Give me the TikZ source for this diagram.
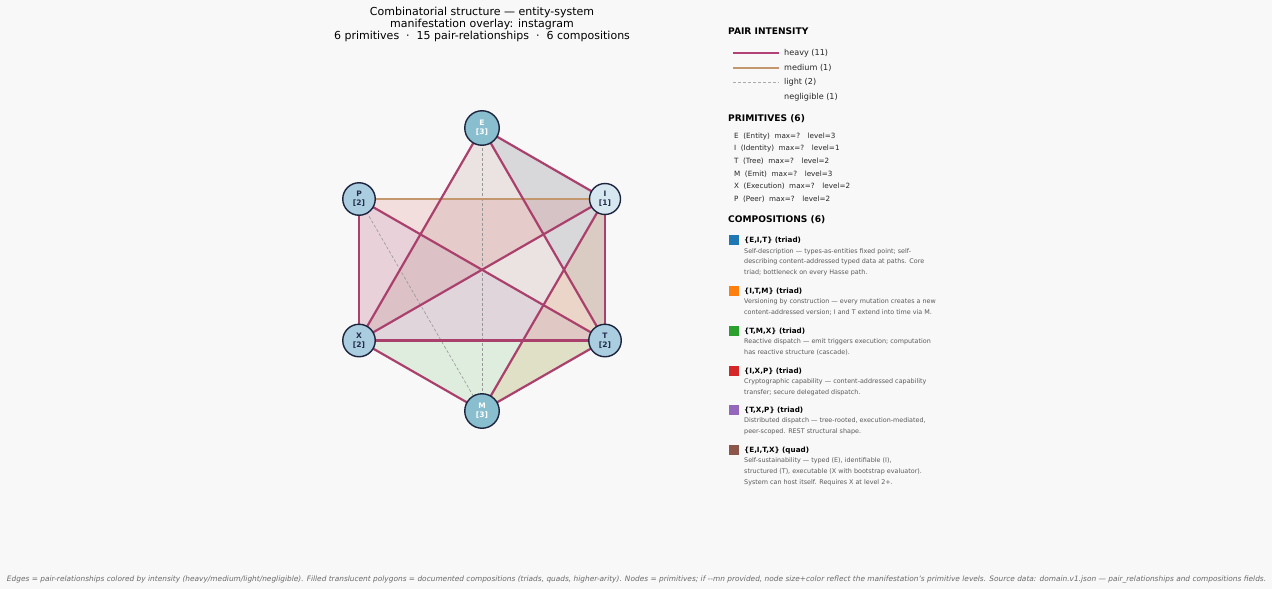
\documentclass[tikz,border=0pt]{standalone}
\usepackage{fontspec}
\setmainfont{DejaVu Sans}
\definecolor{bgc}{RGB}{248,248,248}
\definecolor{heavyc}{RGB}{170,64,108}
\definecolor{heavylg}{RGB}{178,66,118}
\definecolor{mediumc}{RGB}{196,152,110}
\definecolor{lightc}{RGB}{150,150,150}
\definecolor{nodeedge}{RGB}{28,36,62}
\definecolor{nodetext}{RGB}{34,44,74}
\definecolor{lvthree}{RGB}{137,190,206}
\definecolor{lvtwo}{RGB}{170,205,224}
\definecolor{lvone}{RGB}{215,231,240}
\definecolor{tblue}{HTML}{1F77B4}
\definecolor{torange}{HTML}{FF7F0E}
\definecolor{tgreen}{HTML}{2CA02C}
\definecolor{tred}{HTML}{D62728}
\definecolor{tpurple}{HTML}{9467BD}
\definecolor{tbrown}{HTML}{8C564B}
\definecolor{desc}{RGB}{90,90,90}
\definecolor{foot}{RGB}{105,105,105}
\pgfdeclarelayer{bg}
\pgfsetlayers{bg,main}
\tikzset{
  prim/.style={circle, draw=nodeedge, line width=1.4pt, inner sep=0pt, align=center,
    font=\bfseries\fontsize{7.5}{9}\selectfont},
  lvthree/.style={prim, fill=lvthree, minimum size=34.5pt, text=white},
  lvtwo/.style={prim, fill=lvtwo, minimum size=32.5pt, text=nodetext},
  lvone/.style={prim, fill=lvone, minimum size=31pt, text=nodetext},
  heavy/.style={draw=heavyc, line width=2.2pt},
  medium/.style={draw=mediumc, line width=1.6pt},
  light/.style={draw=lightc, line width=0.6pt, dash pattern=on 3pt off 2pt},
  comp/.style={fill opacity=0.12},
  hdr/.style={anchor=west, inner sep=0pt, font=\bfseries\fontsize{9.1}{10}\selectfont, text=black},
  lgtext/.style={anchor=west, inner sep=0pt, font=\fontsize{8.1}{9}\selectfont, text=black!85},
  primtext/.style={anchor=west, inner sep=0pt, font=\fontsize{7.2}{8}\selectfont, text=black!85},
  ctitle/.style={anchor=base west, inner sep=0pt, font=\bfseries\fontsize{7.2}{8}\selectfont, text=black},
  cdesc/.style={anchor=base west, align=left, inner sep=0pt, font=\fontsize{6.4}{10.7}\selectfont, text=desc},
  sq/.style={minimum size=10pt, inner sep=0pt, draw=none},
}
\begin{document}
\begin{tikzpicture}[x=1pt,y=-1pt]
\useasboundingbox (0,0) rectangle (1272,589);

% title
\node[align=center, font=\fontsize{11}{12}\selectfont, text=black] (title) at (482,24)
  {Combinatorial structure — entity-system\\manifestation overlay: instagram\\6 primitives ~·~ 15 pair-relationships ~·~ 6 compositions};

% primitives (nodes)
\node[lvthree] (E) at (482,128) {E\\{[3]}};
\node[lvone]   (I) at (605,199) {I\\{[1]}};
\node[lvtwo]   (T) at (605,340.5) {T\\{[2]}};
\node[lvthree] (M) at (482,411) {M\\{[3]}};
\node[lvtwo]   (X) at (359,340.5) {X\\{[2]}};
\node[lvtwo]   (P) at (359,199) {P\\{[2]}};

\begin{pgfonlayer}{bg}
  \fill[bgc] (0,0) rectangle (1272,589);
  % compositions
  \fill[tblue, fill opacity=0.09] (E.center) -- (I.center) -- (T.center) -- cycle;
  \fill[torange, comp] (I.center) -- (T.center) -- (M.center) -- cycle;
  \fill[tgreen, comp]  (T.center) -- (M.center) -- (X.center) -- cycle;
  \fill[tred, comp]    (I.center) -- (X.center) -- (P.center) -- cycle;
  \fill[tpurple, fill opacity=0.10] (T.center) -- (X.center) -- (P.center) -- cycle;
  \fill[tbrown, fill opacity=0.13]  (E.center) -- (I.center) -- (T.center) -- (X.center) -- cycle;
  % light edges
  \draw[light] (E.center) -- (M.center);
  \draw[light] (P.center) -- (M.center);
  % medium edge
  \draw[medium] (P.center) -- (I.center);
  % heavy edges
  \draw[heavy] (E.center) -- (I.center);
  \draw[heavy] (E.center) -- (T.center);
  \draw[heavy] (E.center) -- (X.center);
  \draw[heavy] (P.center) -- (T.center);
  \draw[heavy] (P.center) -- (X.center);
  \draw[heavy] (I.center) -- (T.center);
  \draw[heavy] (I.center) -- (X.center);
  \draw[heavy] (I.center) -- (M.center);
  \draw[heavy] (T.center) -- (X.center);
  \draw[heavy] (T.center) -- (M.center);
  \draw[heavy] (X.center) -- (M.center);
\end{pgfonlayer}

% legend: pair intensity
\node[hdr] (h1) at (728,31) {PAIR INTENSITY};
\coordinate (la1) at (733,53); \coordinate (lb1) at (779,53);
\coordinate (la2) at (733,68); \coordinate (lb2) at (779,68);
\coordinate (la3) at (733,82); \coordinate (lb3) at (779,82);
\draw[draw=heavylg, line width=2.6pt] (la1) -- (lb1);
\draw[draw=mediumc, line width=1.8pt] (la2) -- (lb2);
\draw[draw=lightc!80, line width=0.7pt, dash pattern=on 3pt off 2pt] (la3) -- (lb3);
\node[lgtext] (l1) at (784,53) {heavy (11)};
\node[lgtext] (l2) at (784,68) {medium (1)};
\node[lgtext] (l3) at (784,82) {light (2)};
\node[lgtext] (l4) at (784,97) {negligible (1)};

% legend: primitives
\node[hdr] (h2) at (728,119) {PRIMITIVES (6)};
\node[primtext] (p1) at (734,137) {E~ (Entity)~ max=?~~ level=3};
\node[primtext] (p2) at (734,149) {I~ (Identity)~ max=?~~ level=1};
\node[primtext] (p3) at (734,161.5) {T~ (Tree)~ max=?~~ level=2};
\node[primtext] (p4) at (734,174) {M~ (Emit)~ max=?~~ level=3};
\node[primtext] (p5) at (734,186.5) {X~ (Execution)~ max=?~~ level=2};
\node[primtext] (p6) at (734,199) {P~ (Peer)~ max=?~~ level=2};

% legend: compositions
\node[hdr] (h3) at (728,220) {COMPOSITIONS (6)};

\node[sq, fill=tblue] (s1) at (734,240) {};
\node[ctitle] (c1) at (744,242.5) {\{E,I,T\} (triad)};
\node[cdesc] (d1) at (744,274.5) {Self-description — types-as-entities fixed point; self-\\describing content-addressed typed data at paths. Core\\triad; bottleneck on every Hasse path.};

\node[sq, fill=torange] (s2) at (734,290.5) {};
\node[ctitle] (c2) at (744,293) {\{I,T,M\} (triad)};
\node[cdesc] (d2) at (744,314) {Versioning by construction — every mutation creates a new\\content-addressed version; I and T extend into time via M.};

\node[sq, fill=tgreen] (s3) at (734,330.5) {};
\node[ctitle] (c3) at (744,333) {\{T,M,X\} (triad)};
\node[cdesc] (d3) at (744,354) {Reactive dispatch — emit triggers execution; computation\\has reactive structure (cascade).};

\node[sq, fill=tred] (s4) at (734,370.5) {};
\node[ctitle] (c4) at (744,373) {\{I,X,P\} (triad)};
\node[cdesc] (d4) at (744,394) {Cryptographic capability — content-addressed capability\\transfer; secure delegated dispatch.};

\node[sq, fill=tpurple] (s5) at (734,410) {};
\node[ctitle] (c5) at (744,412.5) {\{T,X,P\} (triad)};
\node[cdesc] (d5) at (744,433.5) {Distributed dispatch — tree-rooted, execution-mediated,\\peer-scoped. REST structural shape.};

\node[sq, fill=tbrown] (s6) at (734,450) {};
\node[ctitle] (c6) at (744,452.5) {\{E,I,T,X\} (quad)};
\node[cdesc] (d6) at (744,484) {Self-sustainability — typed (E), identifiable (I),\\structured (T), executable (X with bootstrap evaluator).\\System can host itself. Requires X at level 2+.};

% footer
\node[anchor=base, inner sep=0pt, text=foot, font=\itshape\fontsize{6.5}{8}\selectfont] (foot) at (636.5,581.5)
  {\resizebox{1259pt}{!}{Edges = pair-relationships colored by intensity (heavy/medium/light/negligible). Filled translucent polygons = documented compositions (triads, quads, higher-arity). Nodes = primitives; if -{}-mn provided, node size+color reflect the manifestation's primitive levels. Source data: domain.v1.json — pair\_relationships and compositions fields.}};
\end{tikzpicture}
\end{document}
